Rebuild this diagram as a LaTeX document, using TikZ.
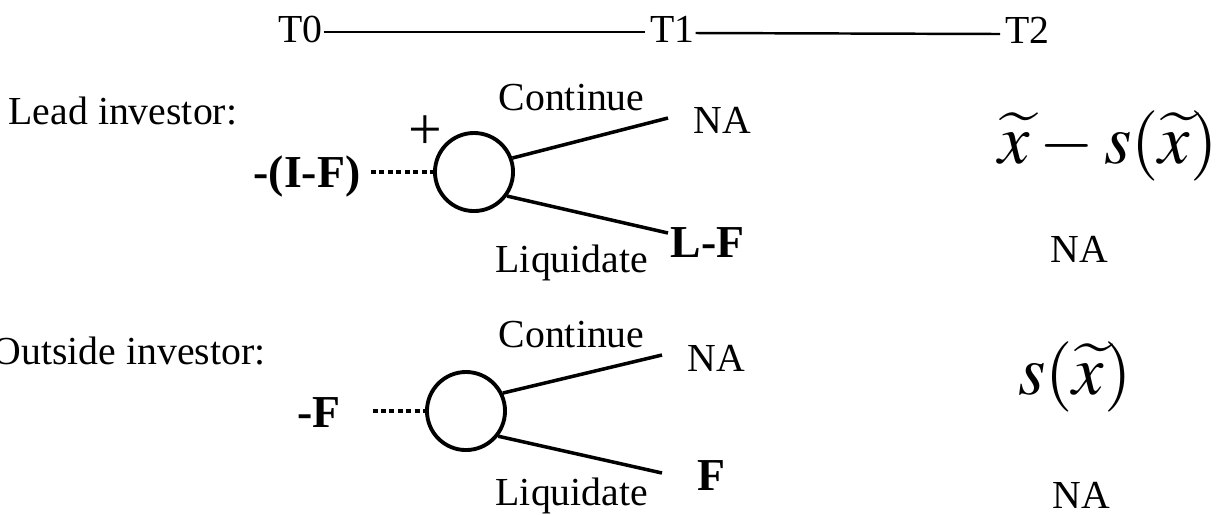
\documentclass[tikz,border=0pt]{standalone}
\usepackage{mathptmx}
\usepackage{fontspec}
\setmainfont{Liberation Serif}
\usetikzlibrary{positioning}

\begin{document}
\begin{tikzpicture}[x=0.01cm, y=-0.01cm,
    lbl/.style={font=\fontsize{11.3}{13}\selectfont, inner sep=0pt, anchor=base west},
    payoff/.style={font=\fontsize{13}{15}\selectfont\bfseries, inner sep=0pt, anchor=base west},
    bigmath/.style={font=\fontsize{20}{24}\selectfont, inner sep=0pt},
    choice/.style={circle, draw, line width=1.1pt, minimum size=0.78cm, inner sep=0pt},
    branch/.style={line width=1pt},
    dots/.style={densely dotted, line width=1.4pt}]
    \useasboundingbox (0,0) rectangle (1218,514);

    % ligne du temps
    \node[lbl] (t0) at (278,42) {T0};
    \node[lbl] (t1) at (650,42) {T1};
    \node[lbl] (t2) at (1005,43) {T2};
    \draw[line width=0.7pt] ([yshift=0.1cm]t0.base east) -- ([yshift=0.1cm, xshift=-0.05cm]t1.base west);
    \draw[line width=0.7pt] ([yshift=0.09cm]t1.base east) -- ([yshift=0.09cm, xshift=-0.05cm]t2.base west);

    % investisseur principal
    \node[lbl] (leadlbl) at (8,124) {Lead investor:};
    \node[choice] (c1) at (474,172) {};
    \node[font=\fontsize{17}{19}\selectfont, inner sep=0pt] (plus1) at (425,133) {+};
    \node[payoff] (lead0) at (253,187) {-(I-F)};
    \draw[dots, shorten <=0.1cm] (lead0.east |- c1.west) -- (c1.west);
    \node[lbl] (cont1) at (498,110) {Continue};
    \node[lbl] (na1) at (693,133) {NA};
    \node[lbl] (liq1) at (495,272) {Liquidate};
    \node[payoff] (lf1) at (670,257) {L-F};
    \coordinate (end1c) at (668,118);
    \coordinate (end1l) at (668,233);
    \draw[branch] (c1.20) -- (end1c);
    \draw[branch] (c1.-36) -- (end1l);
    \node[bigmath] (x1) at (1108,146) {$\widetilde{x}-s(\widetilde{x})$};
    \node[lbl] (na12) at (1050,262) {NA};

    % investisseur externe
    \node[lbl] (outlbl) at (-8,364) {Outside investor:};
    \node[choice] (c2) at (466,411) {};
    \node[payoff] (out0) at (297,427) {-F};
    \draw[dots, shorten <=0.31cm] (out0.east |- c2.west) -- (c2.west);
    \node[lbl] (cont2) at (498,347) {Continue};
    \node[lbl] (na2) at (687,371) {NA};
    \node[lbl] (liq2) at (495,505) {Liquidate};
    \node[payoff] (f2) at (697,490) {F};
    \coordinate (end2c) at (662,355);
    \coordinate (end2l) at (662,473);
    \draw[branch] (c2.26) -- (end2c);
    \draw[branch] (c2.-38) -- (end2l);
    \node[bigmath] (x2) at (1075,377) {$s(\widetilde{x})$};
    \node[lbl] (na22) at (1052,508) {NA};
\end{tikzpicture}
\end{document}
